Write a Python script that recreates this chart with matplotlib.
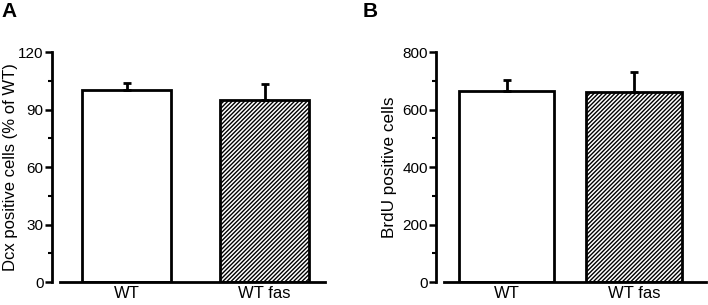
import matplotlib
matplotlib.use("Agg")
import matplotlib.pyplot as plt

plt.rcParams['font.family'] = ['Liberation Sans', 'DejaVu Sans']
plt.rcParams['hatch.linewidth'] = 1.0

categories = ["WT", "WT fas"]
dcx_values = [100, 95]
dcx_errors = [4, 8.5]
brdu_values = [664, 660]
brdu_errors = [38, 72]

fig = plt.figure(figsize=(7.08, 3.05), dpi=100)

def panel(rect, values, errors, ylim, yticks, minor, ylabel, letter, xlim, width,
          letter_pos, tick_fs, xlab_fs, ylab_fs, labelpad):
    ax = fig.add_axes(rect)
    x = [0, 1]
    hatches = [None, '////////']
    for xi, v, e, h in zip(x, values, errors, hatches):
        ax.bar(xi, v, width=width, color='white', edgecolor='black', linewidth=2.0,
               hatch=h, zorder=2)
        ax.errorbar(xi, v, yerr=[[0], [e]], fmt='none', ecolor='black',
                    elinewidth=2.0, capsize=3, capthick=2.0, zorder=3)
    ax.set_xlim(*xlim)
    ax.set_ylim(*ylim)
    ax.set_yticks(yticks)
    ax.set_yticks(minor, minor=True)
    ax.set_xticks(x)
    ax.set_xticklabels(categories, fontsize=xlab_fs)
    ax.tick_params(axis='x', length=0, pad=3)
    ax.tick_params(axis='y', which='major', length=5, width=1.8, labelsize=tick_fs, pad=1)
    ax.tick_params(axis='y', which='minor', length=3, width=1.5)
    for s in ['top', 'right']:
        ax.spines[s].set_visible(False)
    ax.spines['left'].set_linewidth(2.0)
    ax.spines['bottom'].set_linewidth(2.0)
    ax.spines['bottom'].set_bounds(xlim[0] + 0.06, xlim[1])
    ax.set_ylabel(ylabel, fontsize=ylab_fs, labelpad=labelpad)
    fig.text(letter_pos[0], letter_pos[1], letter, fontsize=15, fontweight='bold',
             ha='left', va='top')
    return ax

panel([0.0735, 0.0754, 0.386, 0.754], dcx_values, dcx_errors, (0, 120),
      [0, 30, 60, 90, 120], [15, 45, 75, 105],
      "Dcx positive cells (% of WT)", "A", (-0.54, 1.44), 0.65, (0.002, 0.995),
      11, 12, 12, 0)
panel([0.6165, 0.0754, 0.38, 0.754], brdu_values, brdu_errors, (0, 800),
      [0, 200, 400, 600, 800], [100, 300, 500, 700],
      "BrdU positive cells", "B", (-0.55, 1.56), 0.75, (0.512, 0.995),
      11, 12, 12.3, 4)

fig.savefig("out.png", dpi=100)
